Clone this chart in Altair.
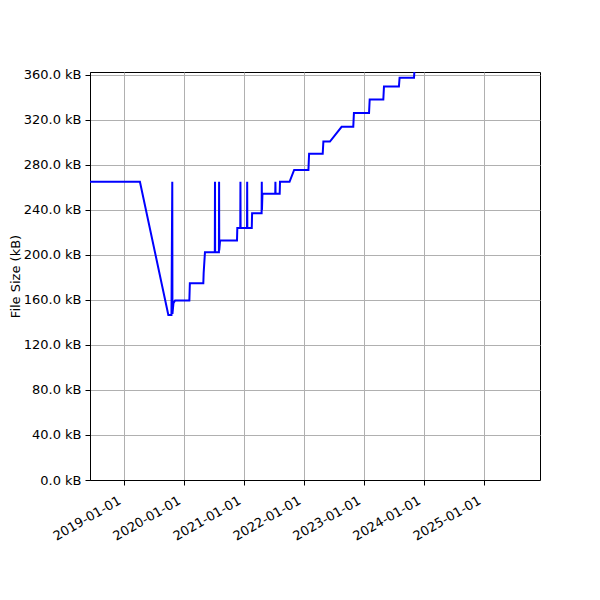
import altair as alt
import pandas as pd

dates = [
    "2018-06-06", "2019-04-06", "2019-09-26", "2019-10-15", "2019-10-20", "2019-10-21",
    "2019-10-27", "2019-11-06", "2020-02-01", "2020-02-04", "2020-04-26", "2020-04-28",
    "2020-05-06", "2020-07-05", "2020-07-06", "2020-07-07", "2020-07-30", "2020-07-31",
    "2020-08-01", "2020-08-06", "2020-11-17", "2020-11-19", "2020-12-07", "2020-12-08",
    "2020-12-09", "2021-01-17", "2021-01-18", "2021-01-19", "2021-02-15", "2021-02-17",
    "2021-04-16", "2021-04-17", "2021-04-18", "2021-04-21", "2021-07-08", "2021-07-09",
    "2021-07-10", "2021-08-04", "2021-08-06", "2021-10-03", "2021-10-31", "2022-01-26",
    "2022-01-30", "2022-04-23", "2022-04-27", "2022-06-06", "2022-08-16", "2022-10-26",
    "2022-10-30", "2023-01-30", "2023-02-03", "2023-04-27", "2023-05-01", "2023-07-31",
    "2023-08-04", "2023-10-31", "2023-11-02",
]
sizes_kb = [
    265.0, 265.0, 146.7, 146.7, 265.0, 147.5,
    157.0, 159.4, 159.4, 174.8, 174.8, 183.7,
    202.4, 202.4, 265.0, 202.4, 202.4, 265.0,
    204.0, 212.7, 212.7, 224.0, 224.0, 265.0,
    224.0, 224.0, 265.0, 224.0, 224.0, 237.0,
    237.0, 265.0, 240.0, 254.3, 254.3, 265.0,
    254.3, 254.3, 265.0, 265.0, 275.5, 275.5,
    289.8, 289.8, 300.7, 300.7, 313.8, 313.8,
    326.0, 326.0, 338.0, 338.0, 349.6, 349.6,
    357.5, 357.5, 362.5,
]
y_ticks = [0, 40, 80, 120, 160, 200, 240, 280, 320, 360]
x_tick_years = [2019, 2020, 2021, 2022, 2023, 2024, 2025]

df = pd.DataFrame({"date": dates, "size": sizes_kb, "idx": list(range(len(dates)))})

FONT = "DejaVu Sans"

x_axis = alt.Axis(
    values=[alt.DateTime(year=y, month=1, date=1, utc=True) for y in x_tick_years],
    format="%Y-%m-%d",
    labelAngle=330,
    labelAlign="right",
    labelBaseline="top",
    labelPadding=9,
    labelOffset=-8,
    tickSize=5,
    title=None,
    grid=True,
    gridColor="#b0b0b0",
    gridWidth=1,
    domainColor="black",
    tickColor="black",
    labelColor="black",
    labelFont=FONT,
    labelFontSize=13,
    labelOverlap=False,
    labelFlush=False,
)

y_axis = alt.Axis(
    values=y_ticks,
    labelExpr="format(datum.value, '.1f') + ' kB'",
    tickSize=5,
    labelPadding=4,
    title="File Size (kB)",
    titleFont=FONT,
    titleFontSize=13,
    titleFontWeight="normal",
    titleColor="black",
    titlePadding=1,
    grid=True,
    gridColor="#b0b0b0",
    gridWidth=1,
    domainColor="black",
    tickColor="black",
    labelColor="black",
    labelFont=FONT,
    labelFontSize=13,
    labelOverlap=False,
    labelFlush=False,
)

chart = (
    alt.Chart(df)
    .mark_line(color="#0000ff", strokeWidth=2, clip=True)
    .encode(
        x=alt.X(
            "date:T",
            scale=alt.Scale(
                type="utc",
                domain=[
                    alt.DateTime(year=2018, month=6, date=6, utc=True),
                    alt.DateTime(year=2025, month=12, date=6, utc=True),
                ],
                nice=False,
            ),
            axis=x_axis,
        ),
        y=alt.Y("size:Q", scale=alt.Scale(domain=[0, 362.5], nice=False, zero=True), axis=y_axis),
        order="idx:Q",
    )
    .properties(
        width=450,
        height=408,
        autosize=alt.AutoSizeParams(type="none"),
        padding={"left": 82, "top": 64, "right": 50, "bottom": 100},
    )
    .configure_view(stroke="black", strokeWidth=1)
)

chart.save("out.html", embed_options={"renderer": "svg", "actions": False})
